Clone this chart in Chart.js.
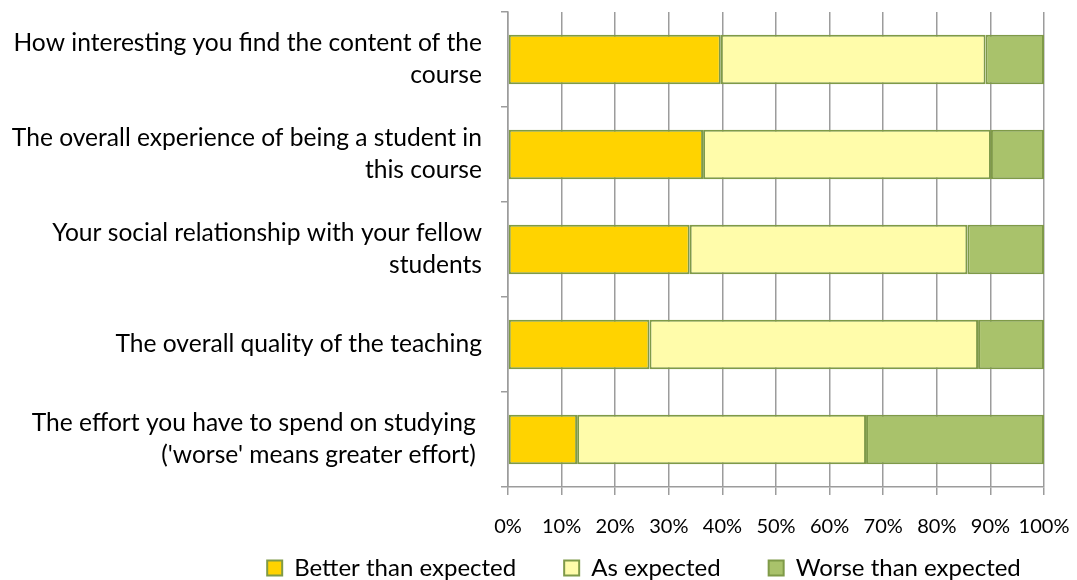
<!DOCTYPE html>
<html lang="en">
<head>
    <meta charset="UTF-8">
    <title>Course compared with expectations</title>
    <script src="https://cdn.jsdelivr.net/npm/chart.js@4.4.1/dist/chart.umd.min.js"></script>
    <style>
        html, body { margin: 0; padding: 0; background: #fff; }
    </style>
</head>
<body>
    <canvas id="myChart" width="1077" height="580"></canvas>
<script>
    // Questions (top to bottom), multi-line like the original
    const questions = [
        ['How interesting you find the content of the', 'course'],
        ['The overall experience of being a student in', 'this course'],
        ['Your social relationship with your fellow', 'students'],
        'The overall quality of the teaching',
        ['The effort you have to spend on studying ', "('worse' means greater effort) "]
    ];

    // Share of answers in %
    const betterThanExpected = [39.7, 36.4, 33.9, 26.4, 12.9];
    const asExpected = [49.4, 53.7, 51.8, 61.3, 53.9];
    const worseThanExpected = [10.9, 9.9, 14.3, 12.3, 33.2];

    const seriesNames = ['Better than expected', 'As expected', 'Worse than expected'];
    const seriesColors = ['#FFD300', '#FFFCAA', '#A9C26B'];
    const edgeColor = '#7F9A48';
    const gridColor = '#9C9C9C';
    const font = 'Lato';

    // legend row: wider gaps than the layout padding, centred under x = 644
    const legendGap = 48;
    const legendCenter = 644;
    const legendDrop = -13;

    const legendPlacement = {
        id: 'legendPlacement',
        afterLayout(chart) {
            const lg = chart.legend;
            const labels = lg.options.labels;
            const extra = legendGap - labels.padding;
            labels.padding = legendGap;
            lg.lineWidths = lg.lineWidths.map(w => w + extra * lg.legendItems.length);
            const shift = legendCenter - (lg.left + lg.right) / 2;
            lg.left += shift;
            lg.right += shift;
            lg.top += legendDrop - extra;
            lg.bottom = chart.height;
        }
    };

    const ctx = document.getElementById('myChart').getContext('2d');
    const myChart = new Chart(ctx, {
        type: 'bar',
        data: {
            labels: questions,
            datasets: [betterThanExpected, asExpected, worseThanExpected].map((values, i) => ({
                label: seriesNames[i],
                data: values,
                backgroundColor: seriesColors[i],
                borderColor: edgeColor,
                borderWidth: 2,
                borderSkipped: false
            }))
        },
        options: {
            indexAxis: 'y',
            responsive: false,
            animation: false,
            layout: {
                padding: { top: 12, left: 0, right: 33, bottom: -23 }
            },
            datasets: {
                bar: { categoryPercentage: 1, barPercentage: 0.52 }
            },
            scales: {
                x: {
                    stacked: true,
                    min: 0,
                    max: 100,
                    ticks: {
                        stepSize: 10,
                        callback: v => v + '%',
                        color: '#000',
                        padding: 20,
                        autoSkip: false,
                        maxRotation: 0,
                        minRotation: 0,
                        font: { family: font, size: 20 }
                    },
                    grid: { color: gridColor, lineWidth: 1.5, tickLength: 8 },
                    border: { color: gridColor, width: 1.5 },
                    afterFit: scale => {
                        scale.paddingLeft = 0;
                        scale.paddingRight = 0;
                    }
                },
                y: {
                    stacked: true,
                    ticks: {
                        color: '#000',
                        padding: 19,
                        font: { family: font, size: 24.6, lineHeight: '32px' }
                    },
                    grid: { drawOnChartArea: false, color: gridColor, lineWidth: 1.5, tickLength: 7 },
                    border: { color: gridColor, width: 1.5 },
                    afterFit: scale => {
                        scale.width = 508;
                        scale.paddingTop = 0;
                        scale.paddingBottom = 0;
                    }
                }
            },
            plugins: {
                legend: {
                    position: 'bottom',
                    labels: {
                        boxWidth: 15,
                        boxHeight: 15,
                        padding: 10,
                        color: '#000',
                        font: { family: font, size: 24 }
                    }
                },
                tooltip: { enabled: false }
            }
        },
        plugins: [legendPlacement]
    });
</script>
</body>
</html>
